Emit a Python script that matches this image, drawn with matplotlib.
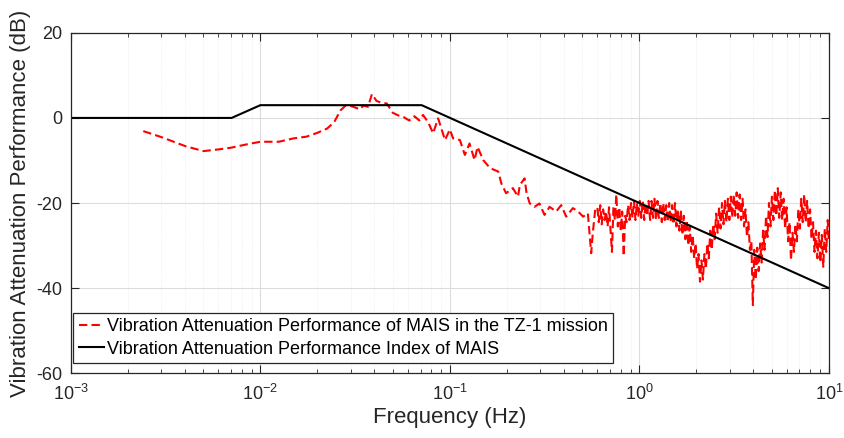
import matplotlib
matplotlib.use('Agg')
import matplotlib.pyplot as plt
import numpy as np

plt.rcParams['font.family'] = ['Liberation Sans', 'DejaVu Sans']
plt.rcParams['mathtext.fontset'] = 'custom'
plt.rcParams['mathtext.rm'] = 'Liberation Sans'
plt.rcParams['axes.unicode_minus'] = False

# performance index (black)
f_index = [1e-3, 0.00705, 0.01, 0.071, 10.0]
db_index = [0, 0, 3, 3, -40]

# measured performance, low frequency part (red dashed)
f_low = [0.00241, 0.0030, 0.0040, 0.0050, 0.0060, 0.0070, 0.0085, 0.0100, 0.0125, 0.0150,
         0.0175, 0.0200, 0.0225, 0.0245, 0.0265, 0.0285, 0.0310, 0.0335, 0.0350, 0.0370,
         0.0388, 0.0410, 0.0440, 0.0465, 0.0500, 0.0540, 0.0570, 0.0610, 0.0650, 0.0690,
         0.0722, 0.0770, 0.0816, 0.0867, 0.0943, 0.100, 0.104, 0.113, 0.120, 0.127,
         0.135, 0.140, 0.150, 0.163, 0.180, 0.187, 0.198, 0.215, 0.229, 0.234,
         0.248, 0.254, 0.264, 0.280, 0.297, 0.316, 0.336, 0.364, 0.387, 0.411,
         0.446, 0.475, 0.505, 0.535, 0.557, 0.568, 0.585]
db_low = [-3.1, -4.5, -6.6, -7.8, -7.4, -7.0, -6.2, -5.6, -5.6, -4.8,
          -4.4, -3.5, -2.5, -1.0, 1.8, 3.1, 2.6, 2.0, 2.9, 2.6,
          5.6, 4.0, 3.5, 3.4, 1.2, 0.5, 0.2, -0.6, 0.4, -0.6,
          0.7, -1.1, -3.6, -0.1, -5.2, -2.7, -4.8, -5.2, -8.7, -6.0,
          -9.9, -6.8, -9.9, -11.8, -12.6, -15.4, -17.7, -16.5, -18.5, -15.8,
          -14.2, -17.7, -20.1, -20.9, -20.1, -22.8, -20.9, -22.0, -20.5, -23.2,
          -21.2, -22.0, -23.2, -22.4, -31.8, -27.1, -21.5]

# measured performance, dense high frequency part
f_high = [0.600, 0.611, 0.622, 0.633, 0.644, 0.656, 0.668, 0.680, 0.692, 0.704,
          0.717, 0.730, 0.743, 0.756, 0.770, 0.784, 0.798, 0.812, 0.827, 0.842,
          0.857, 0.872, 0.888, 0.904, 0.920, 0.937, 0.954, 0.971, 0.988, 1.006,
          1.024, 1.042, 1.061, 1.080, 1.100, 1.119, 1.140, 1.160, 1.181, 1.202,
          1.224, 1.246, 1.268, 1.291, 1.314, 1.338, 1.362, 1.387, 1.412, 1.437,
          1.463, 1.489, 1.516, 1.543, 1.571, 1.599, 1.628, 1.657, 1.687, 1.718,
          1.749, 1.780, 1.812, 1.845, 1.878, 1.912, 1.946, 1.981, 2.017, 2.053,
          2.090, 2.128, 2.166, 2.205, 2.245, 2.285, 2.326, 2.368, 2.411, 2.454,
          2.498, 2.543, 2.589, 2.636, 2.683, 2.731, 2.780, 2.830, 2.881, 2.933,
          2.986, 3.040, 3.094, 3.150, 3.207, 3.264, 3.323, 3.383, 3.444, 3.506,
          3.569, 3.633, 3.698, 3.765, 3.833, 3.902, 3.972, 4.043, 4.116, 4.190,
          4.266, 4.342, 4.420, 4.500, 4.581, 4.664, 4.748, 4.833, 4.920, 5.009,
          5.099, 5.191, 5.284, 5.379, 5.476, 5.575, 5.675, 5.777, 5.881, 5.987,
          6.095, 6.205, 6.316, 6.430, 6.546, 6.664, 6.783, 6.906, 7.030, 7.156,
          7.285, 7.416, 7.550, 7.686, 7.824, 7.965, 8.108, 8.254, 8.403, 8.554,
          8.708, 8.865, 9.025, 9.187, 9.352, 9.521, 9.692, 9.867, 10.0]
db_high = [-21, -24.5, -20.5, -25, -21.5, -24, -22, -25.5, -21, -26,
           -31.5, -21, -24, -18, -25.5, -21, -26.5, -22, -32.5, -23,
           -24.5, -20.5, -24, -20, -23.5, -19.5, -24, -20, -23, -19.5,
           -23.5, -19.5, -24, -20, -23, -19.5, -24, -19.5, -23.5, -19,
           -24, -19.5, -23.5, -20, -24.5, -20, -24, -20.5, -24.5, -20,
           -24.5, -20.5, -25, -20, -25.5, -21.5, -26.5, -22, -27.5, -23,
           -28.5, -24, -30, -25.5, -31.5, -27.5, -33, -29.5, -35.5, -32,
           -38.5, -33.5, -38, -32, -35.5, -29.5, -33, -26.5, -31, -25,
           -28.5, -22.5, -27, -21, -26, -20, -25, -19.5, -24.5, -19,
           -24, -18.5, -23.5, -18, -23, -17.5, -23.5, -18, -24, -19,
           -25.5, -21.5, -28, -24.5, -31, -29, -44, -31, -38, -30.5,
           -36, -29.5, -34, -26.5, -31, -23, -28, -20, -25.5, -18.5,
           -24, -17, -23, -16.5, -23.5, -17.5, -24, -19, -26, -21,
           -29, -24.5, -33.5, -27, -31.5, -25, -29, -21.5, -26, -19,
           -24.5, -18, -24.5, -19.5, -26, -21.5, -28.5, -24.5, -31.5, -26.5,
           -33, -27, -34, -27.5, -35, -26, -31.5, -24, -29]

f_meas = f_low + f_high
db_meas = db_low + db_high

fig = plt.figure(figsize=(8.44, 4.38), dpi=100)
ax = fig.add_axes([0.084, 0.148, 0.898, 0.777])

ax.plot(f_meas, db_meas, color='red', linestyle='--', dashes=(4, 2), linewidth=1.5,
        label='Vibration Attenuation Performance of MAIS in the TZ-1 mission')
ax.plot(f_index, db_index, color='black', linewidth=1.5,
        label='Vibration Attenuation Performance Index of MAIS')

ax.set_xscale('log')
ax.set_xlim(1e-3, 10)
ax.set_ylim(-60, 20)
ax.set_yticks([-60, -40, -20, 0, 20])

ax.grid(True, which='major', color='#dcdcdc', linewidth=0.8)
ax.grid(True, which='minor', axis='x', color='#ebebeb', linestyle=':', linewidth=0.6)
ax.set_axisbelow(True)

for s in ax.spines.values():
    s.set_color('#262626')
    s.set_linewidth(0.9)
ax.tick_params(which='both', direction='in', top=True, right=True, colors='#262626',
               labelsize=13)
ax.tick_params(which='major', length=6)
ax.tick_params(which='minor', length=3)
ax.tick_params(axis='x', which='major', pad=8)
ax.tick_params(axis='y', which='major', pad=6)

ax.set_xlabel('Frequency (Hz)', fontsize=16, color='#262626', labelpad=2)
ax.set_ylabel('Vibration Attenuation Performance (dB)', fontsize=16, color='#262626', labelpad=4)

leg = ax.legend(loc='lower left', bbox_to_anchor=(0.003, 0.03), borderaxespad=0,
                fontsize=13, fancybox=False, framealpha=1, edgecolor='#262626',
                handlelength=1.4, handletextpad=0.15, borderpad=0.3, labelspacing=0.3)
leg.get_frame().set_linewidth(0.9)

fig.savefig('out.png', dpi=100)
